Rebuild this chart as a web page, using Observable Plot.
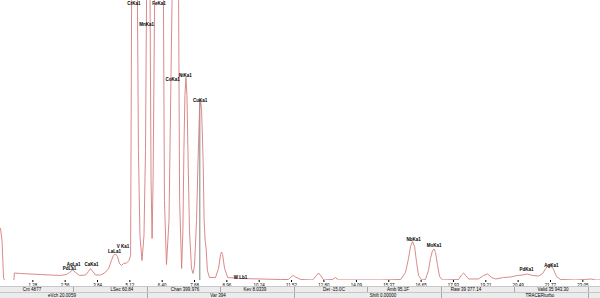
<!DOCTYPE html>
<html>
<head>
<meta charset="utf-8">
<script src="https://cdn.jsdelivr.net/npm/d3@7"></script>
<script src="https://cdn.jsdelivr.net/npm/@observablehq/plot@0.6"></script>
<style>
  html, body { margin: 0; padding: 0; background: #ffffff; }
  #wrap { width: 600px; height: 298px; position: relative; overflow: hidden; font-family: "Liberation Sans", Arial, sans-serif; }
  .row { position: absolute; left: 0; width: 600px; height: 5px; background: #ececec; border-top: 1px solid #c8c8c8; }
  .row span { position: absolute; top: 0; transform: translateX(-50%); font-size: 4.5px; line-height: 5px; color: #000; white-space: nowrap; }
  .row i { position: absolute; top: 0; width: 1px; height: 5px; background: #a8a8a8; }
</style>
</head>
<body>
<div id="wrap"></div>
<script>
// X-ray fluorescence spectrum: energy (keV) and counts
const energyKev = [
  0.00, 0.06, 0.12, 0.16, 0.53, 0.55, 0.79, 1.19, 1.58, 1.98, 2.38, 2.61, 2.73, 2.85, 2.97, 3.13,
  3.37, 3.48, 3.56, 3.64, 3.76, 3.96, 4.12, 4.28, 4.39, 4.47, 4.55, 4.63, 4.71, 4.79, 4.87, 4.99,
  5.09, 5.15, 5.19, 5.30, 5.42, 5.46, 5.52, 5.60, 5.68, 5.74, 5.78, 5.84, 5.92, 5.96, 6.00, 6.04,
  6.10, 6.27, 6.45, 6.49, 6.57, 6.67, 6.79, 6.93, 7.05, 7.09, 7.17, 7.22, 7.26, 7.30, 7.34, 7.38,
  7.42, 7.48, 7.56, 7.62, 7.68, 7.76, 7.82, 7.88, 7.92, 7.96, 8.02, 8.06, 8.10, 8.14, 8.19, 8.27,
  8.51, 8.63, 8.71, 8.75, 8.79, 8.87, 8.99, 9.50, 10.29, 11.08, 11.40, 11.52, 11.60, 11.68, 11.88,
  12.35, 12.51, 12.59, 12.67, 12.79, 13.14, 13.26, 13.38, 14.25, 15.04, 15.84, 16.03, 16.15, 16.23,
  16.31, 16.39, 16.47, 16.55, 16.67, 16.82, 16.94, 17.02, 17.10, 17.16, 17.22, 17.30, 17.38, 17.50,
  18.13, 18.25, 18.33, 18.41, 18.53, 18.92, 19.12, 19.28, 19.44, 19.60, 19.91, 20.19, 20.47, 20.67,
  20.86, 21.06, 21.30, 21.46, 21.58, 21.69, 21.77, 21.89, 22.01, 22.17, 22.76, 23.16, 23.36, 23.55, 23.75
];
const counts = [
  1409, 1084, 81, 0, 0, 203, 190, 176, 163, 149, 136, 163, 217, 285, 217, 136,
  149, 244, 325, 257, 149, 149, 203, 325, 542, 678, 718, 650, 461, 407, 461, 474,
  542, 678, 7588, 75338, 7588, 3523, 1220, 542, 1220, 3523, 7588, 48238, 7588, 2710, 1138, 2710,
  7588, 143088, 7588, 2168, 434, 1626, 7588, 48238, 7588, 2168, 325, 1355, 3523, 5014, 5501, 5014,
  3523, 1355, 325, 190, 407, 1626, 3252, 4661, 4878, 4607, 3252, 1626, 1084, 867, 271, 81,
  81, 325, 705, 772, 705, 325, 81, 54, 41, 27, 27, 108, 136, 95, 27,
  14, 136, 203, 136, 14, 27, 81, 14, 14, 14, 27, 217, 596, 921,
  1057, 921, 488, 136, 14, 27, 271, 596, 813, 854, 759, 407, 108, 14,
  27, 149, 203, 136, 41, 41, 136, 176, 81, 41, 81, 95, 136, 149,
  176, 136, 122, 190, 325, 420, 420, 298, 108, 27, 14, 27, 41, 14, 14
];

// Axis tick values and their printed labels
const tickValues = [1.28, 2.56, 3.84, 5.12, 6.40, 7.68, 8.96, 10.24, 11.52, 12.80, 14.09, 15.37, 16.65, 17.93, 19.21, 20.49, 21.77, 23.05];
const tickLabels = ["1.28", "2.56", "3.84", "5.12", "6.40", "7.68", "8.96", "10.24", "11.52", "12.80", "14.09", "15.37", "16.65", "17.93", "19.21", "20.49", "21.77", "23.05"];

// Element line labels
const lineNames  = ["PdLa1", "AgLa1", "CaKa1", "LaLa1", "V Ka1", "CrKa1", "MnKa1", "FeKa1", "CoKa1", "NiKa1", "CuKa1", "W Lb1", "NbKa1", "MoKa1", "PdKa1", "AgKa1"];
const lineKev    = [2.73, 2.89, 3.60, 4.51, 4.85, 5.28, 5.78, 6.27, 6.81, 7.32, 7.90, 9.50, 16.35, 17.16, 20.82, 21.81];
const lineCounts = [312, 434, 434, 772, 908, 7493, 6924, 7493, 5447, 5556, 4864, 81, 1098, 949, 298, 393];

// Cursor marker
const cursorKev = 7.89;
const cursorCounts = 4878;

// Status bar texts
const statusRow1 = ["Cnt 4877", "LSec 60.84", "Chan 399.976", "Kev 8.0339", "Det -15.0C", "Amb 95.1F", "Raw 39 377.14", "Valid 35 943.30"];
const statusRow2 = ["eVch 20.0059", "Var 394", "Shift 0.00000", "TRACERturbo"];

const spectrum = energyKev.map((e, i) => ({e, c: counts[i]}));
const lines = lineNames.map((n, i) => ({n, e: lineKev[i], c: lineCounts[i]}));

const chart = Plot.plot({
  width: 600,
  height: 287,
  marginTop: 0,
  marginRight: 0,
  marginBottom: 7,
  marginLeft: 0,
  style: {fontFamily: "Liberation Sans, Arial, sans-serif", fontSize: "4.5px", background: "white", color: "#000"},
  x: {domain: [0, 23.75], label: null, ticks: tickValues, tickFormat: d => tickLabels[tickValues.indexOf(d)], tickSize: 2, tickPadding: 1},
  y: {domain: [0, 7588], axis: null},
  marks: [
    Plot.ruleX([cursorKev], {y1: 0, y2: cursorCounts, stroke: "#606060", strokeWidth: 0.8}),
    Plot.line(spectrum, {x: "e", y: "c", stroke: "#d67c7c", strokeWidth: 0.9, clip: true}),
    Plot.text(lines, {x: "e", y: "c", text: "n", fontSize: 4.5, fontWeight: "bold", fill: "#000"})
  ]
});

const wrap = document.getElementById("wrap");
chart.style.display = "block";
wrap.appendChild(chart);

function addRow(top, texts, centers, seps) {
  const row = document.createElement("div");
  row.className = "row";
  row.style.top = top + "px";
  seps.forEach(x => { const s = document.createElement("i"); s.style.left = x + "px"; row.appendChild(s); });
  texts.forEach((t, i) => { const s = document.createElement("span"); s.textContent = t; s.style.left = centers[i] + "px"; row.appendChild(s); });
  wrap.appendChild(row);
}
addRow(286, statusRow1, [32, 122, 185, 255, 334, 398, 466, 553], [73, 147, 220, 294, 367, 441, 514, 588]);
addRow(292, statusRow2, [62, 218, 383, 540], [147, 294, 441, 588]);
</script>
</body>
</html>
